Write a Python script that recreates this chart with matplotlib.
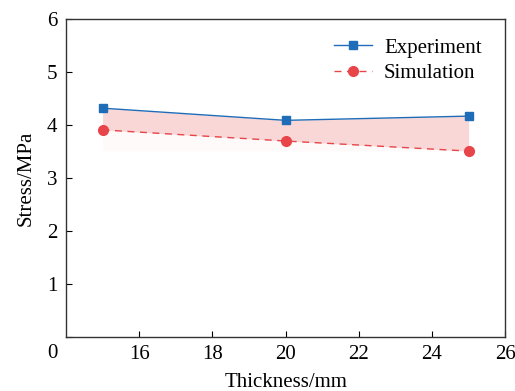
import matplotlib.pyplot as plt
import matplotlib.transforms as mtransforms
import numpy as np

plt.rcParams["font.family"] = ["Liberation Serif", "DejaVu Serif"]
plt.rcParams["mathtext.fontset"] = "stix"

thickness = [15, 20, 25]
experiment = [4.32, 4.09, 4.17]
simulation = [3.91, 3.70, 3.51]

x_ticks = [16, 18, 20, 22, 24, 26]
y_ticks = [0, 1, 2, 3, 4, 5, 6]

BLUE = "#1f6db8"
RED = "#e8454a"
FILL = "#f9d7d7"

fig = plt.figure(figsize=(5.15, 3.91), dpi=100)
ax = fig.add_axes([0.128, 0.138, 0.853, 0.813])

# shaded gap between the two curves, plus a faint band under the simulation
ax.fill_between(thickness, simulation, min(simulation), color=FILL, alpha=0.1, lw=0)
ax.fill_between(thickness, experiment, simulation, color=FILL, lw=0)

ax.plot(thickness, experiment, color=BLUE, lw=1.0, marker="s", ms=6,
        markerfacecolor=BLUE, markeredgecolor=BLUE, label="Experiment")
ax.plot(thickness, simulation, color=RED, lw=1.0, ls=(0, (5, 4)), marker="o", ms=7,
        markerfacecolor=RED, markeredgecolor=RED, label="Simulation")

ax.set_xlim(14, 26)
ax.set_ylim(0, 6)
ax.set_xticks(x_ticks)
ax.set_yticks(y_ticks)
ax.tick_params(direction="in", labelsize=15, length=4, width=0.8, pad=6)
ax.set_xlabel("Thickness/mm", fontsize=15, labelpad=6)
ax.set_ylabel("Stress/MPa", fontsize=15, labelpad=8)

for s in ax.spines.values():
    s.set_linewidth(1.0)
    s.set_color("#333333")

# the zero label sits down in the corner
off = mtransforms.ScaledTranslation(0, -10 / 72, fig.dpi_scale_trans)
lbl0 = ax.get_yticklabels()[0]
lbl0.set_transform(lbl0.get_transform() + off)

ax.legend(loc="upper right", bbox_to_anchor=(0.975, 0.98), frameon=False, fontsize=15,
          handlelength=1.8, handletextpad=0.6, labelspacing=0.3, borderaxespad=0.2)

fig.savefig("out.png", dpi=100)
